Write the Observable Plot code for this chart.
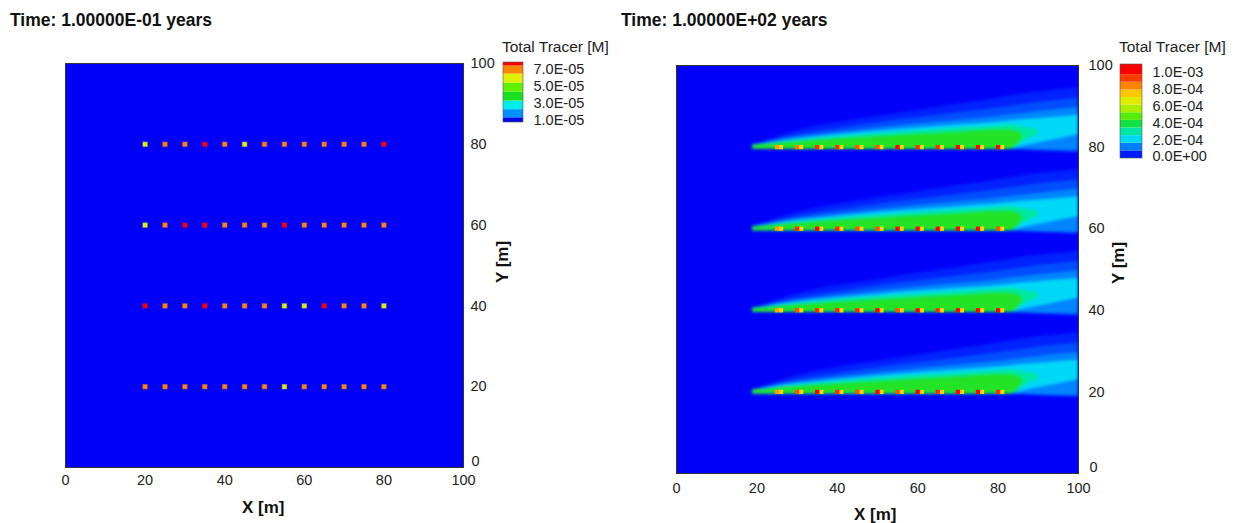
<!DOCTYPE html>
<html><head><meta charset="utf-8">
<script src="https://cdn.jsdelivr.net/npm/d3@7"></script>
<script src="https://cdn.jsdelivr.net/npm/@observablehq/plot@0.6"></script>
<style>
body{margin:0;background:#fff;font-family:"Liberation Sans",Arial,Helvetica,sans-serif;}
#root{position:relative;width:1236px;height:523px;overflow:hidden;background:#fff;}
.abs{position:absolute;white-space:nowrap;line-height:1;}
.title{font-weight:bold;font-size:17.5px;color:#111;}
.axl{font-weight:bold;font-size:17px;color:#111;}
.lt{font-size:15.5px;color:#222;}
svg{overflow:visible;}
</style></head><body><div id="root"></div>
<script>
// ---------- data ----------
const titles = ["Time: 1.00000E-01 years", "Time: 1.00000E+02 years"];
const axisTicks = [0, 20, 40, 60, 80, 100];
const rowsY = [80, 60, 40, 20];
const sourceX = [20, 25, 30, 35, 40, 45, 50, 55, 60, 65, 70, 75, 80];

// left panel: tracer at each source cell (M)
const left80 = [6.2e-5, 7.0e-5, 7.0e-5, 7.6e-5, 7.0e-5, 6.2e-5, 7.0e-5, 7.0e-5, 7.0e-5, 7.0e-5, 7.0e-5, 7.0e-5, 7.6e-5];
const left60 = [6.2e-5, 7.0e-5, 7.6e-5, 7.6e-5, 7.0e-5, 7.0e-5, 7.0e-5, 7.6e-5, 7.0e-5, 7.0e-5, 7.0e-5, 7.0e-5, 7.0e-5];
const left40 = [7.6e-5, 7.0e-5, 7.0e-5, 7.6e-5, 7.0e-5, 7.0e-5, 7.0e-5, 6.2e-5, 6.2e-5, 7.6e-5, 7.0e-5, 7.0e-5, 6.2e-5];
const left20 = [7.0e-5, 7.0e-5, 7.0e-5, 7.0e-5, 7.0e-5, 7.0e-5, 7.0e-5, 6.2e-5, 7.0e-5, 7.0e-5, 7.0e-5, 7.0e-5, 7.0e-5];

// left colour bar
const leftEdges = [0.8e-5, 1.35e-5, 2.3e-5, 3.3e-5, 4.35e-5, 5.4e-5, 6.45e-5, 7.4e-5, 7.8e-5];
const leftColors = ["#0008e8", "#0090ff", "#00ecec", "#18e020", "#60f000", "#e0f000", "#ff8400", "#ff0000"];
const leftLegendTicks = [7e-5, 5e-5, 3e-5, 1e-5];
const leftLegendLabels = ["7.0E-05", "5.0E-05", "3.0E-05", "1.0E-05"];

// right panel: source spots (x = 25..80)
const spotX = [25, 30, 35, 40, 45, 50, 55, 60, 65, 70, 75, 80];
const spot80 = [0.8e-3, 0.85e-3, 0.95e-3, 0.95e-3, 0.9e-3, 0.9e-3, 1.0e-3, 0.95e-3, 0.95e-3, 1.0e-3, 1.0e-3, 1.0e-3];
const spot60 = [0.8e-3, 0.95e-3, 1.0e-3, 0.95e-3, 0.9e-3, 0.9e-3, 1.0e-3, 1.0e-3, 1.0e-3, 1.0e-3, 1.0e-3, 0.9e-3];
const spot40 = [0.8e-3, 0.9e-3, 0.95e-3, 0.95e-3, 0.95e-3, 1.0e-3, 0.9e-3, 1.0e-3, 0.95e-3, 1.0e-3, 1.0e-3, 1.0e-3];
const spot20 = [0.8e-3, 0.9e-3, 1.0e-3, 0.95e-3, 0.9e-3, 1.0e-3, 0.9e-3, 1.0e-3, 0.95e-3, 1.0e-3, 1.0e-3, 0.95e-3];
const spotDownstream = 0.72e-3;

// right panel: plume contour bands, offsets (m) relative to each source row
const plumeX = [19, 22, 25, 30, 40, 50, 60, 70, 80, 83, 86, 90, 95, 100];
const bandValues = [0.03e-3, 0.07e-3, 0.12e-3, 0.2e-3, 0.3e-3, 0.42e-3];
const bandLower = [
  [-0.5, -0.5, -0.5, -0.5, -0.5, -0.5, -0.5, -0.5, -0.5, -0.6, -0.8, -1.0, -1.2, -1.4],
  [-0.5, -0.5, -0.5, -0.5, -0.5, -0.5, -0.5, -0.5, -0.5, -0.5, -0.6, -0.8, -1.0, -1.2],
  [-0.5, -0.5, -0.5, -0.5, -0.5, -0.5, -0.5, -0.5, -0.5, -0.5, -0.6, -0.7, -0.8, -0.9],
  [-0.5, -0.5, -0.5, -0.5, -0.5, -0.5, -0.5, -0.5, -0.5, -0.5, 0.2, 1.0, 2.0, 3.0],
  [-0.5, -0.5, -0.5, -0.5, -0.5, -0.5, -0.5, -0.5, -0.5, -0.5, 1.2, 3.2, null, null],
  [-0.5, -0.5, -0.5, -0.5, -0.5, -0.5, -0.5, -0.5, -0.5, -0.5, 2.2, null, null, null]
];
const bandUpper = [
  [0.6, 1.5, 2.5, 4.0, 6.0, 7.5, 9.0, 10.5, 12.0, 12.5, 13.0, 13.5, 14.0, 14.5],
  [0.55, 1.2, 2.0, 3.0, 4.5, 6.0, 7.2, 8.4, 9.6, 10.0, 10.4, 11.0, 11.5, 12.0],
  [0.5, 1.0, 1.6, 2.4, 3.6, 4.7, 5.7, 6.6, 7.5, 7.9, 8.2, 8.7, 9.2, 9.7],
  [0.5, 0.8, 1.3, 2.0, 3.0, 3.9, 4.7, 5.4, 6.1, 6.4, 6.7, 7.0, 7.4, 7.8],
  [0.5, 0.65, 1.0, 1.6, 2.5, 3.3, 4.0, 4.6, 5.2, 5.4, 5.0, 4.2, null, null],
  [0.5, 0.55, 0.8, 1.2, 1.9, 2.5, 3.1, 3.6, 4.2, 4.2, 3.2, null, null, null]
];

// right colour map
const rightStops = [0, 0.1e-3, 0.2e-3, 0.3e-3, 0.4e-3, 0.5e-3, 0.6e-3, 0.7e-3, 0.8e-3, 0.9e-3, 1.0e-3];
const rightColors = ["#0000ff", "#0070ff", "#00d8f8", "#00e8a0", "#10e030", "#70f000", "#c8f000", "#f8e800", "#ffa000", "#ff5000", "#ff0000"];
const rightLegendEdges = [-0.02e-3, 0.07e-3, 0.16e-3, 0.25e-3, 0.34e-3, 0.43e-3, 0.52e-3, 0.61e-3, 0.70e-3, 0.79e-3, 0.88e-3, 0.97e-3, 1.09e-3];
const rightLegendTicks = [1.0e-3, 0.8e-3, 0.6e-3, 0.4e-3, 0.2e-3, 0];
const rightLegendLabels = ["1.0E-03", "8.0E-04", "6.0E-04", "4.0E-04", "2.0E-04", "0.0E+00"];

// ---------- build ----------
const root = document.getElementById("root");
function place(el, left, top) { el.style.position = "absolute"; el.style.left = left + "px"; el.style.top = top + "px"; root.appendChild(el); return el; }
function text(cls, str, left, top, extra) { const d = document.createElement("div"); d.className = "abs " + cls; d.textContent = str; if (extra) Object.assign(d.style, extra); return place(d, left, top); }

const FONT = "Liberation Sans, Arial, sans-serif";
const leftRows = [left80, left60, left40, left20];
const leftDots = [];
rowsY.forEach((y, i) => sourceX.forEach((x, j) => leftDots.push({x, y, v: leftRows[i][j]})));
const leftScale = {type: "threshold", domain: leftEdges.slice(1, -1), range: leftColors};

const axisStyle = {fontSize: 14.5, fontFamily: FONT, color: "#222"};
const yTicksUpper = axisTicks.filter(t => t > 0);

const leftPlot = Plot.plot({
  width: 500, height: 523, marginLeft: 65, marginRight: 37, marginTop: 63, marginBottom: 56,
  style: {...axisStyle, background: "transparent"},
  x: {domain: [0, 100]}, y: {domain: [0, 100]}, color: leftScale,
  marks: [
    Plot.frame({fill: "#0000fa"}),
    Plot.dot(leftDots, {x: "x", y: "y", fill: "v", symbol: "square", r: 2.5, stroke: "v", strokeOpacity: 0.35, strokeWidth: 1.2}),
    Plot.frame({stroke: "#333", strokeWidth: 1}),
    Plot.axisX({ticks: axisTicks, tickSize: 0, tickPadding: 7, label: null}),
    Plot.axisY({ticks: yTicksUpper, anchor: "right", tickSize: 0, tickPadding: 7, label: null}),
    Plot.axisY({ticks: [0], anchor: "right", tickSize: 0, tickPadding: 8, dy: -6, label: null})
  ]
});
place(leftPlot, 0, 0);

const spotRows = [spot80, spot60, spot40, spot20];
const spots = [];
rowsY.forEach((y, i) => spotX.forEach((x, j) => spots.push({x, y, v: spotRows[i][j]})));
const bands = [];
bandValues.forEach((v, b) => rowsY.forEach(r => plumeX.forEach((x, i) => {
  const lo = bandLower[b][i], hi = bandUpper[b][i];
  if (lo != null && hi != null) bands.push({key: b + "-" + r, x, y1: r + lo, y2: r + hi, v});
})));
const rightScale = {type: "linear", domain: rightStops, range: rightColors, interpolate: "rgb"};

const rightPlot = Plot.plot({
  width: 500, height: 523, marginLeft: 56, marginRight: 42, marginTop: 65, marginBottom: 50,
  style: {...axisStyle, background: "transparent"},
  x: {domain: [0, 100]}, y: {domain: [0, 100]}, color: rightScale,
  marks: [
    Plot.frame({fill: "#0000fa"}),
    Plot.areaY(bands, {x: "x", y1: "y1", y2: "y2", z: "key", fill: "v", curve: "monotone-x"}),
    Plot.dot(spots, {x: "x", y: "y", fill: spotDownstream, symbol: "square", r: 2.4, dx: 4}),
    Plot.dot(spots, {x: "x", y: "y", fill: "v", symbol: "square", r: 2.4}),
    Plot.frame({stroke: "#333", strokeWidth: 1}),
    Plot.axisX({ticks: axisTicks, tickSize: 0, tickPadding: 9, label: null}),
    Plot.axisY({ticks: yTicksUpper, anchor: "right", tickSize: 0, tickPadding: 10, label: null}),
    Plot.axisY({ticks: [0], anchor: "right", tickSize: 0, tickPadding: 11, dy: -6, label: null})
  ]
});
place(rightPlot, 620, 0);

// soften the contour bands (as the reference's smooth flood) and keep them inside the frame
(function () {
  try {
    const sx = rightPlot.scale("x"), sy = rightPlot.scale("y");
    const svgNode = rightPlot.tagName.toLowerCase() === "svg" ? rightPlot : rightPlot.querySelector("svg");
    const node = svgNode.querySelector('g[aria-label="area"]');
    if (!node) return;
    const id = "plumeclip";
    const ns = "http://www.w3.org/2000/svg";
    const defs = document.createElementNS(ns, "defs");
    const cp = document.createElementNS(ns, "clipPath");
    cp.setAttribute("id", id);
    const rect = document.createElementNS(ns, "rect");
    rect.setAttribute("x", sx.apply(0)); rect.setAttribute("y", sy.apply(100));
    rect.setAttribute("width", sx.apply(100) - sx.apply(0)); rect.setAttribute("height", sy.apply(0) - sy.apply(100));
    cp.appendChild(rect); defs.appendChild(cp); svgNode.insertBefore(defs, svgNode.firstChild);
    const wrap = document.createElementNS(ns, "g");
    wrap.setAttribute("clip-path", `url(#${id})`);
    node.parentNode.insertBefore(wrap, node);
    wrap.appendChild(node);
    node.style.filter = "blur(1.6px)";
  } catch (e) { console.log(e); }
})();

// legends
function legendPlot(edges, scale, ticks, labels, h, barW) {
  const cells = edges.slice(0, -1).map((e, i) => ({y1: e, y2: edges[i + 1], v: (e + edges[i + 1]) / 2}));
  return Plot.plot({
    width: barW + 80, height: h, marginLeft: 0, marginRight: 80, marginTop: 0, marginBottom: 0,
    style: {fontSize: 14.5, fontFamily: FONT, color: "#222", background: "transparent"},
    x: {domain: [0, 1], axis: null}, y: {domain: [edges[0], edges[edges.length - 1]], axis: null}, color: scale,
    marks: [
      Plot.rect(cells, {x1: 0, x2: 1, y1: "y1", y2: "y2", fill: "v"}),
      Plot.rect([0], {x1: 0, x2: 1, y1: edges[0], y2: edges[edges.length - 1], stroke: "#555", strokeWidth: 0.6}),
      Plot.text(ticks, {x: 1, y: d => d, text: (d, i) => labels[i], textAnchor: "start", dx: 10, fill: "#222"})
    ]
  });
}
const leftLegendScale = {type: "threshold", domain: leftEdges.slice(1, -1), range: leftColors};
place(legendPlot(leftEdges, leftLegendScale, leftLegendTicks, leftLegendLabels, 60, 20), 503, 62);
const rlegScale = {type: "linear", domain: rightStops, range: rightColors};
place(legendPlot(rightLegendEdges, rlegScale, rightLegendTicks, rightLegendLabels, 94, 22), 1120, 64);

text("lt", "Total Tracer [M]", 502, 39);
text("lt", "Total Tracer [M]", 1119, 39);
text("title", titles[0], 10, 12);
text("title", titles[1], 621, 12);
text("axl", "X [m]", 242, 499);
text("axl", "X [m]", 854, 506);
text("axl", "Y [m]", 502, 262, {transform: "translate(-50%,-50%) rotate(-90deg)"});
text("axl", "Y [m]", 1118, 263, {transform: "translate(-50%,-50%) rotate(-90deg)"});
</script></body></html>
